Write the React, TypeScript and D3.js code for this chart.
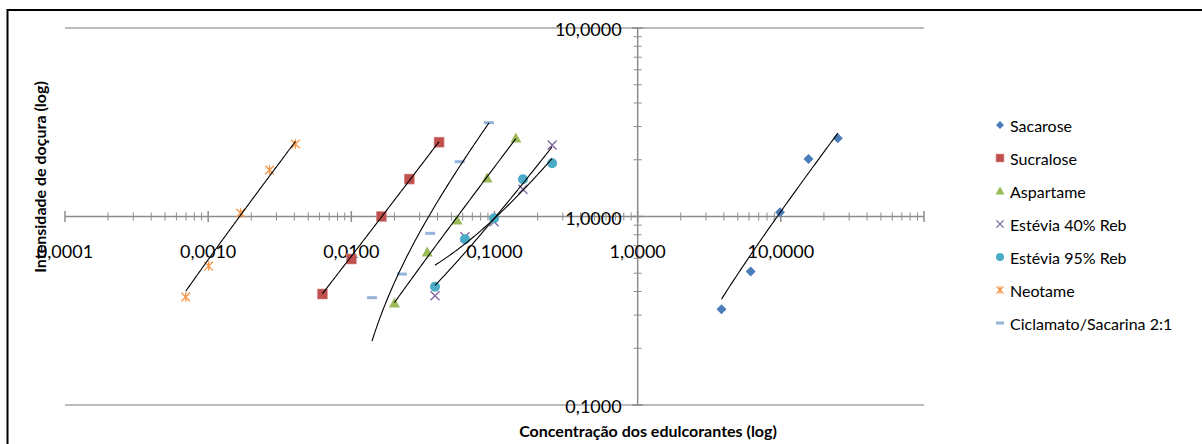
import React from "react";
import * as d3 from "d3";

// ---------- data ----------
const seriesNames = [
  "Sacarose",
  "Sucralose",
  "Aspartame",
  "Estévia 40% Reb",
  "Estévia 95% Reb",
  "Neotame",
  "Ciclamato/Sacarina 2:1",
];
const seriesColors = ["#4A7EBB", "#C0504D", "#9BBB59", "#8064A2", "#4BACC6", "#F79646", "#95B3D7"];
const seriesShapes = ["diamond", "square", "triangle", "x", "circle", "asterisk", "dash"];

const sacaroseX = [3.85, 6.16, 9.87, 15.6, 25.0];
const sacaroseY = [0.322, 0.51, 1.053, 2.02, 2.6];
const sucraloseX = [0.00628, 0.01, 0.0162, 0.0254, 0.041];
const sucraloseY = [0.388, 0.595, 1.0, 1.58, 2.48];
const aspartameX = [0.02, 0.0339, 0.0548, 0.0887, 0.141];
const aspartameY = [0.348, 0.648, 0.958, 1.6, 2.61];
const estevia40X = [0.0384, 0.0622, 0.0993, 0.158, 0.2527];
const estevia40Y = [0.38, 0.781, 0.938, 1.394, 2.395];
const estevia95X = [0.0384, 0.0622, 0.0993, 0.158, 0.2527];
const estevia95Y = [0.424, 0.757, 0.978, 1.575, 1.915];
const neotameX = [0.000697, 0.001008, 0.001684, 0.002683, 0.004071];
const neotameY = [0.374, 0.546, 1.044, 1.765, 2.425];
const ciclamatoX = [0.01394, 0.02256, 0.03552, 0.05722, 0.0915];
const ciclamatoY = [0.371, 0.495, 0.814, 1.953, 3.146];

const seriesX = [sacaroseX, sucraloseX, aspartameX, estevia40X, estevia95X, neotameX, ciclamatoX];
const seriesY = [sacaroseY, sucraloseY, aspartameY, estevia40Y, estevia95Y, neotameY, ciclamatoY];

const xTickValues = [0.0001, 0.001, 0.01, 0.1, 1, 10];
const xTickLabels = ["0,0001", "0,0010", "0,0100", "0,1000", "1,0000", "10,0000"];
const yTickValues = [0.1, 1, 10];
const yTickLabels = ["0,1000", "1,0000", "10,0000"];

const xTitle = "Concentração dos edulcorantes (log)";
const yTitle = "Intensidade de doçura (log)";

// ---------- layout ----------
const W = 1202;
const H = 444;
const FONT = "Lato, 'Open Sans', sans-serif";
const AXIS = "#8c8c8c";
const GRID = "#a6a6a6";

const x = d3.scaleLog().domain([1e-4, 100]).range([65, 924]);
const y = d3.scaleLog().domain([0.1, 10]).range([405, 28]);

function linearFit(xs: number[], ys: number[]) {
  const mx = d3.mean(xs)!;
  const my = d3.mean(ys)!;
  let sxy = 0, sxx = 0;
  xs.forEach((v, i) => {
    sxy += (v - mx) * (ys[i] - my);
    sxx += (v - mx) * (v - mx);
  });
  const a = sxy / sxx;
  return { a, b: my - a * mx };
}

function Marker({ shape, cx, cy, color, s = 1 }: any) {
  const r = 5 * s;
  switch (shape) {
    case "diamond":
      return <path d={`M${cx},${cy - r}L${cx + r},${cy}L${cx},${cy + r}L${cx - r},${cy}Z`} fill={color} />;
    case "square":
      return <rect x={cx - r} y={cy - r} width={2 * r} height={2 * r} fill={color} stroke="#d99694" strokeWidth={0.6} />;
    case "triangle":
      return <path d={`M${cx},${cy - r - 0.5}L${cx + r + 0.5},${cy + r - 0.5}L${cx - r - 0.5},${cy + r - 0.5}Z`} fill={color} />;
    case "x": {
      const q = 4.5 * s;
      return (
        <path d={`M${cx - q},${cy - q}L${cx + q},${cy + q}M${cx - q},${cy + q}L${cx + q},${cy - q}`} stroke={color} strokeWidth={1.3} fill="none" />
      );
    }
    case "circle":
      return <circle cx={cx} cy={cy} r={r} fill={color} />;
    case "asterisk": {
      const q = 4.3 * s;
      return (
        <path
          d={`M${cx - q},${cy - q}L${cx + q},${cy + q}M${cx - q},${cy + q}L${cx + q},${cy - q}M${cx},${cy - q - 0.5}L${cx},${cy + q + 0.5}`}
          stroke={color}
          strokeWidth={1.3}
          fill="none"
        />
      );
    }
    case "dash":
      return <rect x={cx - 5 * s} y={cy - 1.5} width={10 * s} height={3} fill={color} />;
  }
  return null;
}

export default function App() {
  const yAxisX = x(1);
  const xAxisY = y(1);

  // minor ticks
  const xMinor: number[] = [];
  for (let e = -4; e < 2; e++) for (let k = 2; k <= 9; k++) xMinor.push(k * Math.pow(10, e));
  const yMinor: number[] = [];
  for (let e = -1; e < 1; e++) for (let k = 2; k <= 9; k++) yMinor.push(k * Math.pow(10, e));
  const xMajor = [0.0001, 0.001, 0.01, 0.1, 1, 10, 100];

  const lineGen = d3
    .line<[number, number]>()
    .x((d) => x(d[0]))
    .y((d) => y(d[1]));

  const trend = seriesX.map((xs, i) => {
    const { a, b } = linearFit(xs, seriesY[i]);
    const lo = d3.min(xs)!;
    const hi = d3.max(xs)!;
    const pts: [number, number][] = d3
      .range(0, 81)
      .map((t) => Math.pow(10, Math.log10(lo) + ((Math.log10(hi) - Math.log10(lo)) * t) / 80))
      .map((v) => [v, a * v + b] as [number, number])
      .filter((d) => d[1] > 0);
    return lineGen(pts) || "";
  });

  return (
    <svg width={W} height={H} style={{ position: "absolute", left: 0, top: 0, background: "#fff" }} fontFamily={FONT}>
      <defs>
        <clipPath id="plot">
          <rect x={x(1e-4)} y={y(10)} width={x(100) - x(1e-4)} height={y(0.1) - y(10)} />
        </clipPath>
      </defs>
      <rect x={0} y={0} width={W} height={H} fill="#fff" />

      {/* gridlines */}
      {[0.1, 10].map((v) => (
        <line key={v} x1={x(1e-4)} x2={x(100)} y1={y(v)} y2={y(v)} stroke={GRID} strokeWidth={1.5} />
      ))}

      {/* horizontal axis */}
      <line x1={x(1e-4)} x2={x(100)} y1={xAxisY} y2={xAxisY} stroke={AXIS} strokeWidth={1.5} />
      {xMinor.map((v, i) => (
        <line key={"xm" + i} x1={x(v)} x2={x(v)} y1={xAxisY - 4} y2={xAxisY + 4} stroke={AXIS} strokeWidth={1} />
      ))}
      {xMajor.map((v, i) => (
        <line key={"xM" + i} x1={x(v)} x2={x(v)} y1={xAxisY - 5.5} y2={xAxisY + 5.5} stroke={AXIS} strokeWidth={1.5} />
      ))}

      {/* vertical axis */}
      <line x1={yAxisX} x2={yAxisX} y1={y(10)} y2={y(0.1)} stroke={AXIS} strokeWidth={1.5} />
      {yMinor.map((v, i) => (
        <line key={"ym" + i} x1={yAxisX - 4} x2={yAxisX + 4} y1={y(v)} y2={y(v)} stroke={AXIS} strokeWidth={1} />
      ))}
      {yTickValues.map((v, i) => (
        <line key={"yM" + i} x1={yAxisX - 5.5} x2={yAxisX + 5.5} y1={y(v)} y2={y(v)} stroke={AXIS} strokeWidth={1.5} />
      ))}

      {/* tick labels */}
      {xTickValues.map((v, i) => (
        <text key={"xl" + i} x={x(v)} y={xAxisY + 34} fontSize={18} textAnchor="middle" dominantBaseline="central" fill="#000">
          {xTickLabels[i]}
        </text>
      ))}
      {yTickValues.map((v, i) => (
        <text key={"yl" + i} x={yAxisX - 16} y={y(v) + 1} fontSize={18} textAnchor="end" dominantBaseline="central" fill="#000">
          {yTickLabels[i]}
        </text>
      ))}

      {/* markers */}
      {seriesX.map((xs, si) =>
        xs.map((v, j) => (
          <Marker key={si + "-" + j} shape={seriesShapes[si]} cx={x(v)} cy={y(seriesY[si][j])} color={seriesColors[si]} />
        ))
      )}

      {/* trendlines */}
      <g clipPath="url(#plot)">
        {trend.map((d, i) => (
          <path key={"t" + i} d={d} fill="none" stroke="#000" strokeWidth={1.1} />
        ))}
      </g>

      {/* axis titles */}
      <text x={648} y={430} fontSize={16} fontWeight="bold" textAnchor="middle" dominantBaseline="central" fill="#000">
        {xTitle}
      </text>
      <text
        transform={`translate(39,177) rotate(-90)`}
        fontSize={16}
        fontWeight="bold"
        textAnchor="middle"
        dominantBaseline="central"
        fill="#000"
      >
        {yTitle}
      </text>

      {/* legend */}
      {seriesNames.map((n, i) => (
        <g key={"lg" + i} transform={`translate(1000,${125 + 33 * i})`}>
          <Marker shape={seriesShapes[i]} cx={0} cy={0} color={seriesColors[i]} s={0.8} />
          <text x={10} y={0} fontSize={16} dominantBaseline="central" fill="#000">
            {n}
          </text>
        </g>
      ))}

      {/* chart border */}
      <rect x={7.5} y={10} width={1205} height={445} fill="none" stroke="#000" strokeWidth={2} />
    </svg>
  );
}
